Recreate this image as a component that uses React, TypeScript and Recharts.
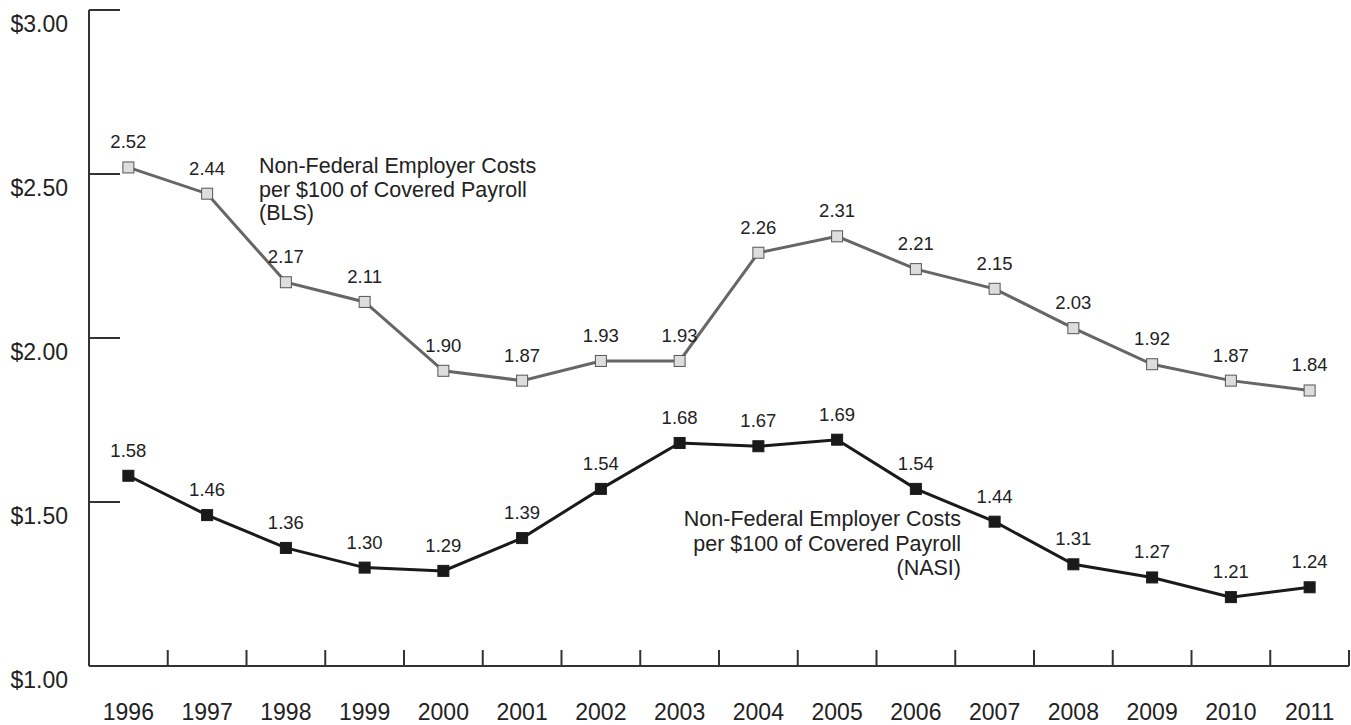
import React from 'react';
import { LineChart, Line, XAxis, YAxis, LabelList, Customized } from 'recharts';

const years = ['1996', '1997', '1998', '1999', '2000', '2001', '2002', '2003', '2004', '2005', '2006', '2007', '2008', '2009', '2010', '2011'];
const blsCosts = [2.52, 2.44, 2.17, 2.11, 1.9, 1.87, 1.93, 1.93, 2.26, 2.31, 2.21, 2.15, 2.03, 1.92, 1.87, 1.84];
const nasiCosts = [1.58, 1.46, 1.36, 1.3, 1.29, 1.39, 1.54, 1.68, 1.67, 1.69, 1.54, 1.44, 1.31, 1.27, 1.21, 1.24];
const yTicks = [1, 1.5, 2, 2.5, 3];
const blsNote = ['Non-Federal Employer Costs', 'per $100 of Covered Payroll', '(BLS)'];
const nasiNote = ['Non-Federal Employer Costs', 'per $100 of Covered Payroll', '(NASI)'];

const data = years.map((year, i) => ({ year, bls: blsCosts[i], nasi: nasiCosts[i] }));

const W = 1351;
const H = 725;
const LEFT = 89;
const RIGHT = 2;
const BAND = (W - LEFT - RIGHT) / years.length;
const FONT = '"Liberation Sans", Arial, Helvetica, sans-serif';
const AXIS = '#333';
const TEXT = '#222';

const XTick = (props: any) => {
  const { x, y, payload, index } = props;
  const left = x - BAND / 2;
  return (
    <g>
      <line x1={left} y1={y} x2={left} y2={y - 16} stroke={AXIS} strokeWidth={2} />
      {index === years.length - 1 && (
        <line x1={x + BAND / 2} y1={y} x2={x + BAND / 2} y2={y - 16} stroke={AXIS} strokeWidth={2} />
      )}
      <text x={x} y={y + 54} textAnchor="middle" fontSize={23} fill={TEXT} fontFamily={FONT}>
        {payload.value}
      </text>
    </g>
  );
};

const YTick = (props: any) => {
  const { x, y, payload } = props;
  return (
    <g>
      <line x1={x} y1={y} x2={x + 31} y2={y} stroke={AXIS} strokeWidth={2} />
      <text x={x - 21} y={y + 22} textAnchor="end" fontSize={23} fill={TEXT} fontFamily={FONT}>
        {`$${Number(payload.value).toFixed(2)}`}
      </text>
    </g>
  );
};

const squareDot = (fill: string, stroke: string) => (props: any) => {
  const { cx, cy, index } = props;
  return <rect key={index} x={cx - 5.5} y={cy - 5.5} width={11} height={11} fill={fill} stroke={stroke} strokeWidth={1} />;
};

const pointLabel = (props: any) => {
  const { x, y, value, index } = props;
  return (
    <text key={index} x={x} y={y - 19} textAnchor="middle" fontSize={18.5} fill={TEXT} fontFamily={FONT}>
      {Number(value).toFixed(2)}
    </text>
  );
};

const Notes = () => (
  <g fontFamily={FONT} fontSize={21.5} fill={TEXT}>
    {blsNote.map((line, i) => (
      <text key={`b${i}`} x={259} y={173 + i * 23.5}>
        {line}
      </text>
    ))}
    {nasiNote.map((line, i) => (
      <text key={`n${i}`} x={961} y={526 + i * 24.5} textAnchor="end">
        {line}
      </text>
    ))}
  </g>
);

export default function App() {
  return (
    <div style={{ position: 'absolute', left: 0, top: 0, width: W, height: H, background: '#fff' }}>
      <LineChart width={W} height={H} data={data} margin={{ top: 10, right: RIGHT, bottom: 0, left: 0 }}>
        <XAxis
          dataKey="year"
          scale="band"
          height={59}
          interval={0}
          tickSize={0}
          tickMargin={0}
          tickLine={false}
          axisLine={{ stroke: AXIS, strokeWidth: 2 }}
          tick={<XTick />}
        />
        <YAxis
          width={LEFT}
          type="number"
          domain={[1, 3]}
          ticks={yTicks}
          interval={0}
          tickSize={0}
          tickMargin={0}
          tickLine={false}
          axisLine={{ stroke: AXIS, strokeWidth: 2 }}
          tick={<YTick />}
        />
        <Line
          dataKey="bls"
          stroke="#666"
          strokeWidth={3}
          dot={squareDot('#ddd', '#555')}
          isAnimationActive={false}
        >
          <LabelList dataKey="bls" content={pointLabel} />
        </Line>
        <Line
          dataKey="nasi"
          stroke="#1a1a1a"
          strokeWidth={3}
          dot={squareDot('#1a1a1a', '#1a1a1a')}
          isAnimationActive={false}
        >
          <LabelList dataKey="nasi" content={pointLabel} />
        </Line>
        <Customized component={Notes} />
      </LineChart>
    </div>
  );
}
